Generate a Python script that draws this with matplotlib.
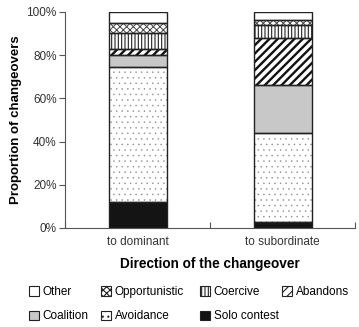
import matplotlib
matplotlib.use('Agg')
import matplotlib.pyplot as plt
import matplotlib.patches as patches
import numpy as np

plt.rcParams['font.family'] = ['Liberation Sans', 'DejaVu Sans']
plt.rcParams['hatch.linewidth'] = 0.8

# Dados
categorias = ['to dominant', 'to subordinate']
tipos = ['Solo contest', 'Avoidance', 'Coalition', 'Abandons',
         'Coercive', 'Opportunistic', 'Other']
solo = [12.0, 3.0]
avoidance = [62.7, 41.0]
coalition = [5.3, 22.2]
abandons = [2.7, 21.9]
coercive = [7.6, 5.8]
opportunistic = [4.6, 2.4]
other = [5.1, 3.7]
valores = [solo, avoidance, coalition, abandons, coercive, opportunistic, other]

# Estilo de cada segmento: (cor de fundo, hachura, cor da hachura, espessura)
estilos = {
    'Solo contest': ('#141414', None, '#141414', 0.8),
    'Avoidance': ('white', '...', '#8c8c8c', 0.3),
    'Coalition': ('#c8c8c8', None, '#c8c8c8', 0.8),
    'Abandons': ('white', '////', '#111111', 1.7),
    'Coercive': ('white', '|||||', '#222222', 0.8),
    'Opportunistic': ('white', 'xxxxx', '#444444', 0.7),
    'Other': ('white', None, 'black', 0.8),
}

fig = plt.figure(figsize=(3.59, 3.27), dpi=100)
ax = fig.add_axes([65 / 359, 1 - 228 / 327, 290 / 359, 216 / 327])

x = np.array([0.5, 1.5])
largura = 0.4
base = np.zeros(2)
handles = {}
for nome, vals in zip(tipos, valores):
    cor, hatch, hcor, hlw = estilos[nome]
    vals = np.array(vals)
    with plt.rc_context({'hatch.linewidth': hlw}):
        ax.bar(x, vals, largura, bottom=base, color=cor, hatch=hatch,
               edgecolor=hcor, linewidth=0, zorder=2)
        handles[nome] = patches.Patch(facecolor=cor, hatch=hatch, edgecolor='#222222',
                                      linewidth=0.8)
    ax.bar(x, vals, largura, bottom=base, facecolor='none',
           edgecolor='#222222', linewidth=1.0, zorder=3)
    base += vals

ax.set_xlim(0, 2)
ax.set_ylim(0, 100)
ax.set_yticks(np.arange(0, 101, 20))
ax.set_yticklabels([f'{v}%' for v in range(0, 101, 20)], fontsize=8.5, color='#333333')
ax.set_xticks([0, 1, 2])
ax.set_xticklabels([])
ax.set_xticks(x, minor=True)
ax.set_xticklabels(categorias, minor=True, fontsize=8.5, color='#333333')
ax.tick_params(axis='x', which='minor', length=0, pad=6)
ax.tick_params(axis='x', which='major', length=4, direction='in', color='#555555')
ax.tick_params(axis='y', length=4, color='#555555', pad=2)
for lado in ['top', 'right']:
    ax.spines[lado].set_visible(False)
for lado in ['left', 'bottom']:
    ax.spines[lado].set_color('#555555')
    ax.spines[lado].set_linewidth(0.8)

ax.set_ylabel('Proportion of changeovers', fontsize=9.5, fontweight='bold', labelpad=3)
ax.set_xlabel('Direction of the changeover', fontsize=9.8, fontweight='bold', labelpad=6)

# Legenda: uma coluna por posicao, como na figura original
colunas = [['Other', 'Coalition'], ['Opportunistic', 'Avoidance'],
           ['Coercive', 'Solo contest'], ['Abandons']]
x_colunas = [29, 101, 200, 282]
for nomes, xc in zip(colunas, x_colunas):
    leg = fig.legend([handles[n] for n in nomes], nomes, ncol=1, frameon=False,
                     loc='upper left', bbox_to_anchor=(xc / 359, 1 - 286 / 327),
                     fontsize=8.5, handlelength=0.85, handleheight=0.85,
                     handletextpad=0.3, labelspacing=1.05, borderpad=0,
                     borderaxespad=0)

fig.savefig('out.png', dpi=100)
